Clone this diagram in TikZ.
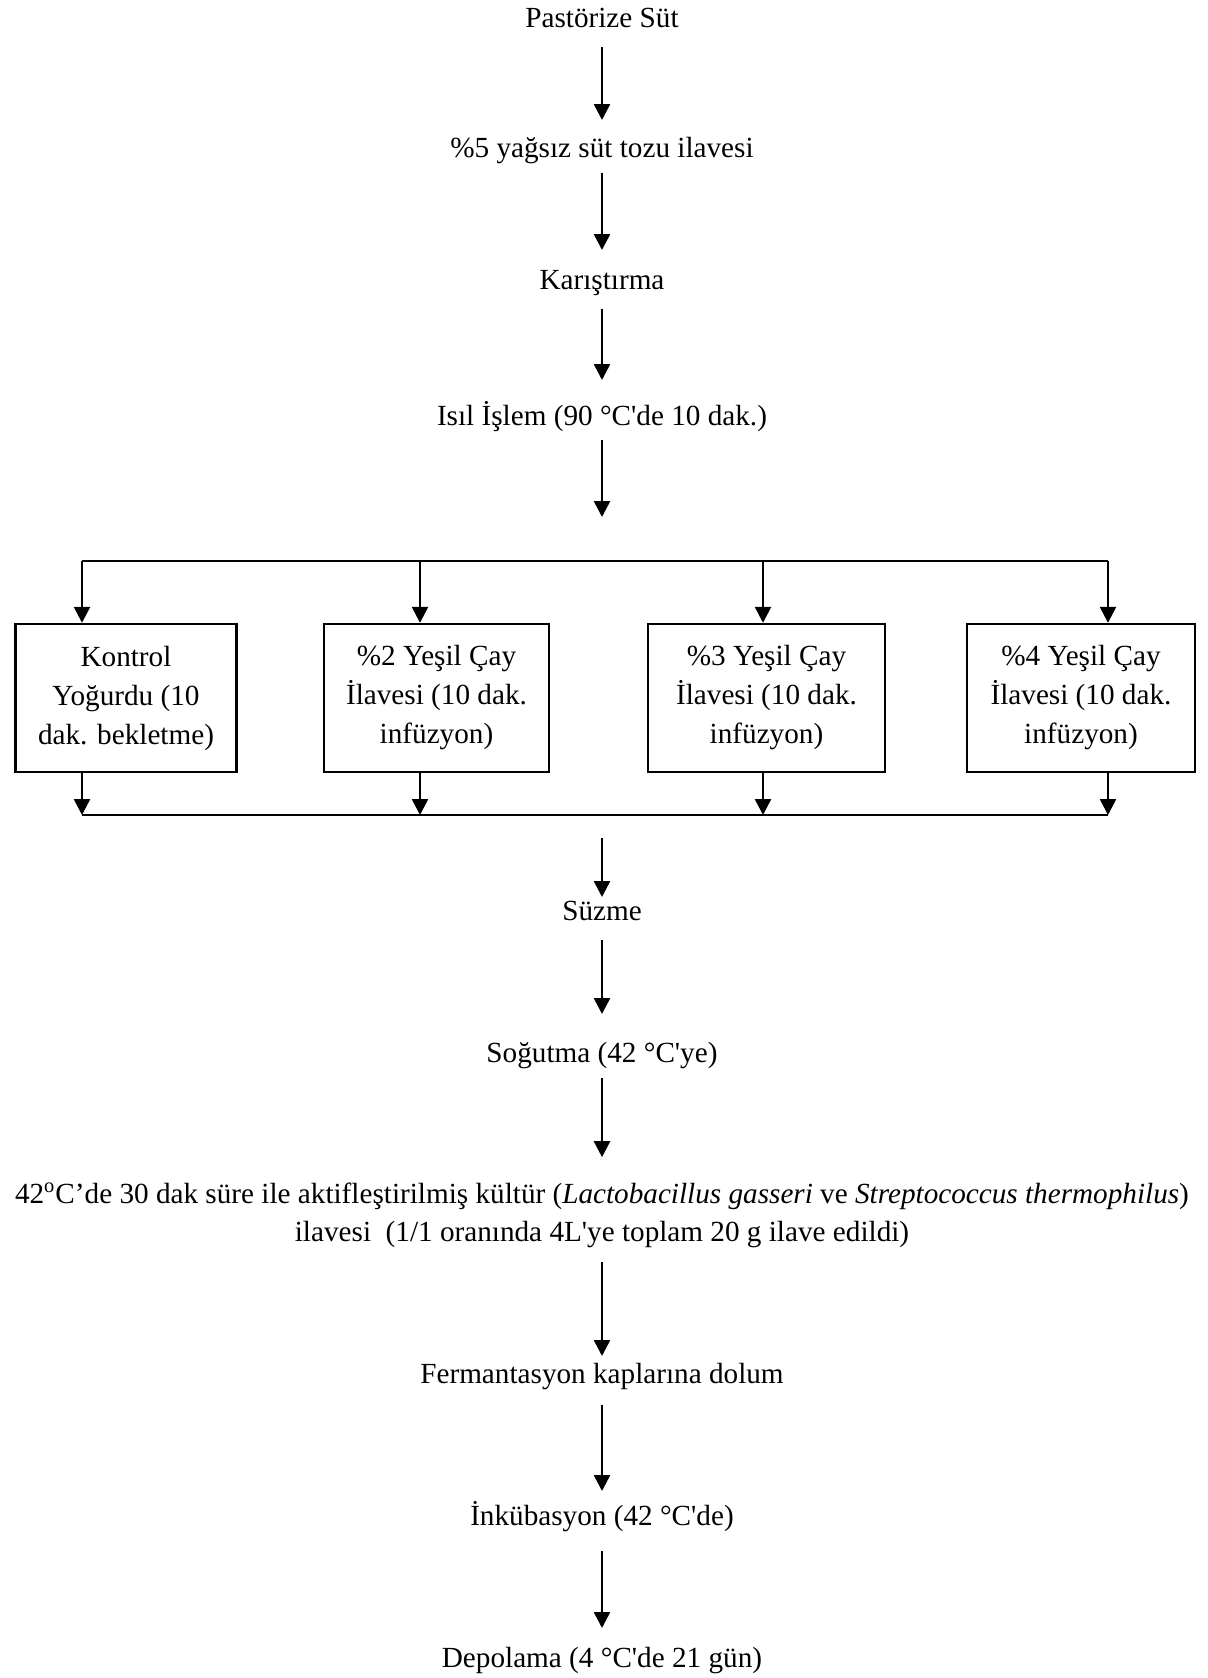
\documentclass[tikz,border=0pt]{standalone}
\usepackage{fontspec}
\setmainfont{Liberation Serif}
\usetikzlibrary{arrows.meta}

\begin{document}
\begin{tikzpicture}[x=0.5pt, y=-0.5pt,
  every node/.style={font=\fontsize{14.6}{19.5}\selectfont, inner sep=0pt},
  stage/.style={anchor=base, text height=0.7em, text depth=0.25em},
  box/.style={draw, line width=1.2pt, align=center, minimum height=74pt},
  arr/.style={-{Triangle[length=8pt,width=8pt]}, line width=1.3pt},
  link/.style={line width=1.2pt}]
\useasboundingbox (0,0) rectangle (1208,1678);

% Steps before the split
\node[stage] (pastor) at (602,27) {Pastörize Süt};
\node[stage] (yagsiz) at (602,157) {\%5 yağsız süt tozu ilavesi};
\node[stage] (karis) at (602,289) {Karıştırma};
\node[stage] (isil) at (602,425) {Isıl İşlem (90 °C\textquotesingle de 10 dak.)};

% Four yoghurt groups
\node[box, minimum width=110.5pt] (kontrol) at (126,698) {Kontrol\\Yoğurdu (10\\dak. bekletme)};
\node[box, minimum width=112.5pt] (cay2) at (436.5,698) {\%2 Yeşil Çay\\İlavesi (10 dak.\\infüzyon)};
\node[box, minimum width=118.5pt] (cay3) at (766.5,698) {\%3 Yeşil Çay\\İlavesi (10 dak.\\infüzyon)};
\node[box, minimum width=114pt] (cay4) at (1081,698) {\%4 Yeşil Çay\\İlavesi (10 dak.\\infüzyon)};

% Steps after the join
\node[stage] (suzme) at (602,920) {Süzme};
\node[stage] (sogut) at (602,1062) {Soğutma (42 °C\textquotesingle ye)};
\node[align=center, font=\fontsize{14.6}{19}\selectfont] (kultur) at (602,1215)
  {42\textsuperscript{o}C’de 30 dak süre ile aktifleştirilmiş kültür (\textit{Lactobacillus gasseri} ve \textit{Streptococcus thermophilus})\\
   ilavesi~ (1/1 oranında 4L\textquotesingle ye toplam 20 g ilave edildi)};
\node[stage] (ferm) at (602,1383) {Fermantasyon kaplarına dolum};
\node[stage] (inkub) at (602,1525) {İnkübasyon (42 °C\textquotesingle de)};
\node[stage] (depo) at (602,1667) {Depolama (4 °C\textquotesingle de 21 gün)};

% Split and join lines
\coordinate (split) at (602,561);
\coordinate (join) at (602,815);
\foreach \n/\x in {1/82, 2/420, 3/763, 4/1108} {
  \coordinate (t\n) at (\x,561);
  \coordinate (b\n) at (\x,815);
}
\draw[link] (t1) -- (t4);
\draw[link] (b1) -- (b4);
\foreach \n/\bx in {1/kontrol, 2/cay2, 3/cay3, 4/cay4} {
  \draw[arr] (t\n) -- (t\n |- \bx.north);
  \draw[arr] (t\n |- \bx.south) -- (b\n);
}

% Main arrows
\foreach \a/\b/\s/\e in {
  pastor/yagsiz/7.35pt/11.3pt,
  yagsiz/karis/5.35pt/12.3pt,
  karis/isil/7.35pt/15.3pt,
  isil/split/4.85pt/22pt,
  join/suzme/11.5pt/4.3pt,
  suzme/sogut/7.35pt/16.8pt,
  sogut/kultur/5.35pt/12.5pt,
  kultur/ferm/7.3pt/6.3pt,
  ferm/inkub/8.35pt/9.8pt,
  inkub/depo/10.35pt/12.3pt
} {
  \draw[arr, shorten <=\s, shorten >=\e] (\a) -- (\b);
}
\end{tikzpicture}
\end{document}
